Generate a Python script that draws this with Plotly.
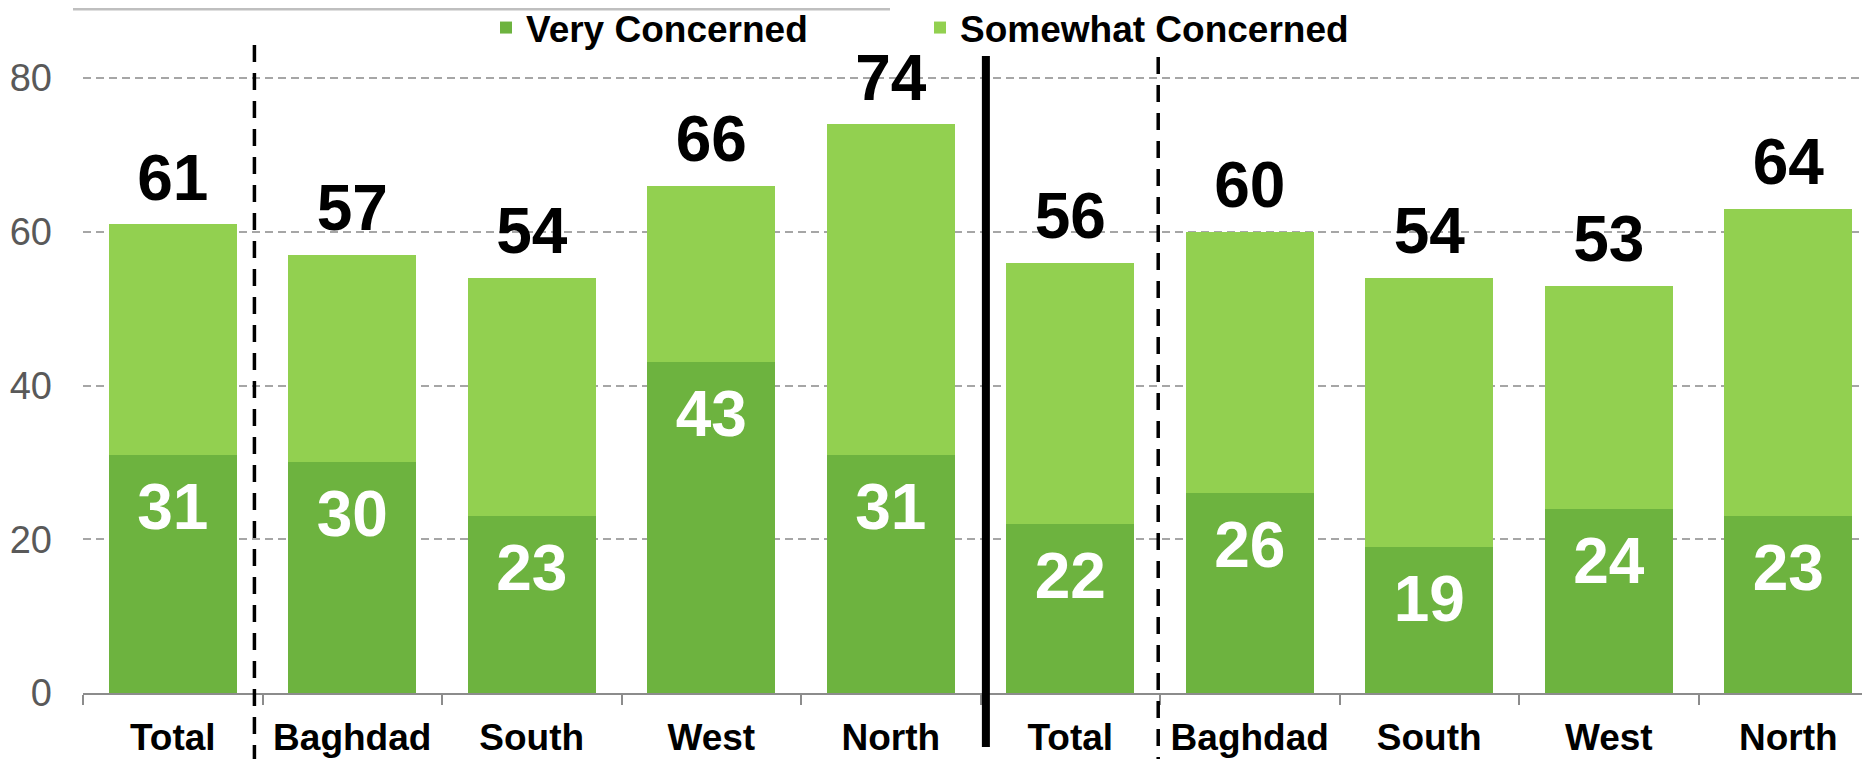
import plotly.graph_objects as go

# data
regions = ["Total", "Baghdad", "South", "West", "North",
           "Total", "Baghdad", "South", "West", "North"]
very_concerned = [31, 30, 23, 43, 31, 22, 26, 19, 24, 23]
somewhat_concerned = [30, 27, 31, 23, 43, 34, 34, 35, 29, 40]
total_labels = [61, 57, 54, 66, 74, 56, 60, 54, 53, 64]
y_ticks = [0, 20, 40, 60, 80]

DARK_GREEN = "#6db33f"
LIGHT_GREEN = "#92d050"
FONT = "Liberation Sans, Arial, sans-serif"

# the page adds an 8px body margin, so the figure is laid out 8px up/left
PLOT_L, PLOT_W = 75, 1795


def py(p):
    # page pixel row -> paper y (plot area spans page rows 16..693)
    return (693 - p) / 677


def px(p):
    # page pixel column -> paper x
    return (p - 8 - PLOT_L) / PLOT_W


x_pos = list(range(len(regions)))
bar_tops = [v + s for v, s in zip(very_concerned, somewhat_concerned)]

fig = go.Figure()

fig.add_trace(go.Bar(x=x_pos, y=very_concerned, name="Very Concerned",
                     marker=dict(color=DARK_GREEN, line=dict(width=0))))
fig.add_trace(go.Bar(x=x_pos, y=somewhat_concerned, name="Somewhat Concerned",
                     marker=dict(color=LIGHT_GREEN, line=dict(width=0))))

# white values inside the dark segments
fig.add_trace(go.Scatter(
    x=x_pos, y=very_concerned, text=[str(v) for v in very_concerned],
    mode="markers+text", textposition="bottom center",
    marker=dict(size=40, opacity=0),
    textfont=dict(family=FONT, size=64, color="white", weight="bold"),
    showlegend=False, hoverinfo="skip", cliponaxis=False))

# totals above the bars
fig.add_trace(go.Scatter(
    x=x_pos, y=bar_tops, text=[str(v) for v in total_labels],
    mode="markers+text", textposition="top center",
    marker=dict(size=12, opacity=0),
    textfont=dict(family=FONT, size=64, color="black", weight="bold"),
    showlegend=False, hoverinfo="skip", cliponaxis=False))

# separators: dashed between Total and regions, solid between the two groups
fig.add_shape(type="line", xref="x", yref="paper", x0=0.455, x1=0.455,
              y0=py(45), y1=py(759), line=dict(color="black", width=3.5, dash="17px,11px"))
fig.add_shape(type="line", xref="x", yref="paper", x0=4.53, x1=4.53,
              y0=py(56), y1=py(747), line=dict(color="black", width=8))
fig.add_shape(type="line", xref="x", yref="paper", x0=5.49, x1=5.49,
              y0=py(57), y1=py(759), line=dict(color="black", width=3.5, dash="17px,11px"))

# grey edge of a box cut off at the top
fig.add_shape(type="rect", xref="paper", yref="paper",
              x0=px(73), x1=px(890), y0=py(10.5), y1=py(8),
              fillcolor="#bfbfbf", line=dict(width=0))

fig.update_layout(
    width=1870, height=759,
    barmode="stack", bargap=0.287,
    plot_bgcolor="white", paper_bgcolor="white",
    margin=dict(l=PLOT_L, r=0, t=8, b=74, autoexpand=False),
    font=dict(family=FONT, color="black"),
    showlegend=True,
    legend=dict(orientation="h", x=px(486), xanchor="left",
                y=py(28), yanchor="middle", traceorder="normal",
                entrywidth=389, entrywidthmode="pixels",
                font=dict(family=FONT, size=37, color="black", weight="bold"),
                bgcolor="rgba(0,0,0,0)"),
)

fig.update_xaxes(
    range=[-0.5, 9.5], tickmode="array", tickvals=x_pos, ticktext=regions,
    ticks="", showgrid=False, zeroline=False, automargin=False,
    showline=True, linecolor="#8c8c8c", linewidth=2,
    ticklabelstandoff=11,
    tickfont=dict(family=FONT, size=37, color="black", weight="bold"),
    minor=dict(tickmode="linear", tick0=0.5, dtick=1, ticks="outside",
               ticklen=10, tickwidth=2, tickcolor="#8c8c8c", showgrid=False),
    fixedrange=True,
)
fig.update_yaxes(
    range=[0, 88.07], tickmode="array", tickvals=y_ticks,
    showgrid=True, gridcolor="#a6a6a6", gridwidth=1.5, griddash="8px,5px",
    zeroline=False, showline=False, ticks="", automargin=False,
    ticklabelstandoff=30,
    tickfont=dict(family=FONT, size=38, color="#595959"),
    fixedrange=True,
)

fig.write_html("out.html")
